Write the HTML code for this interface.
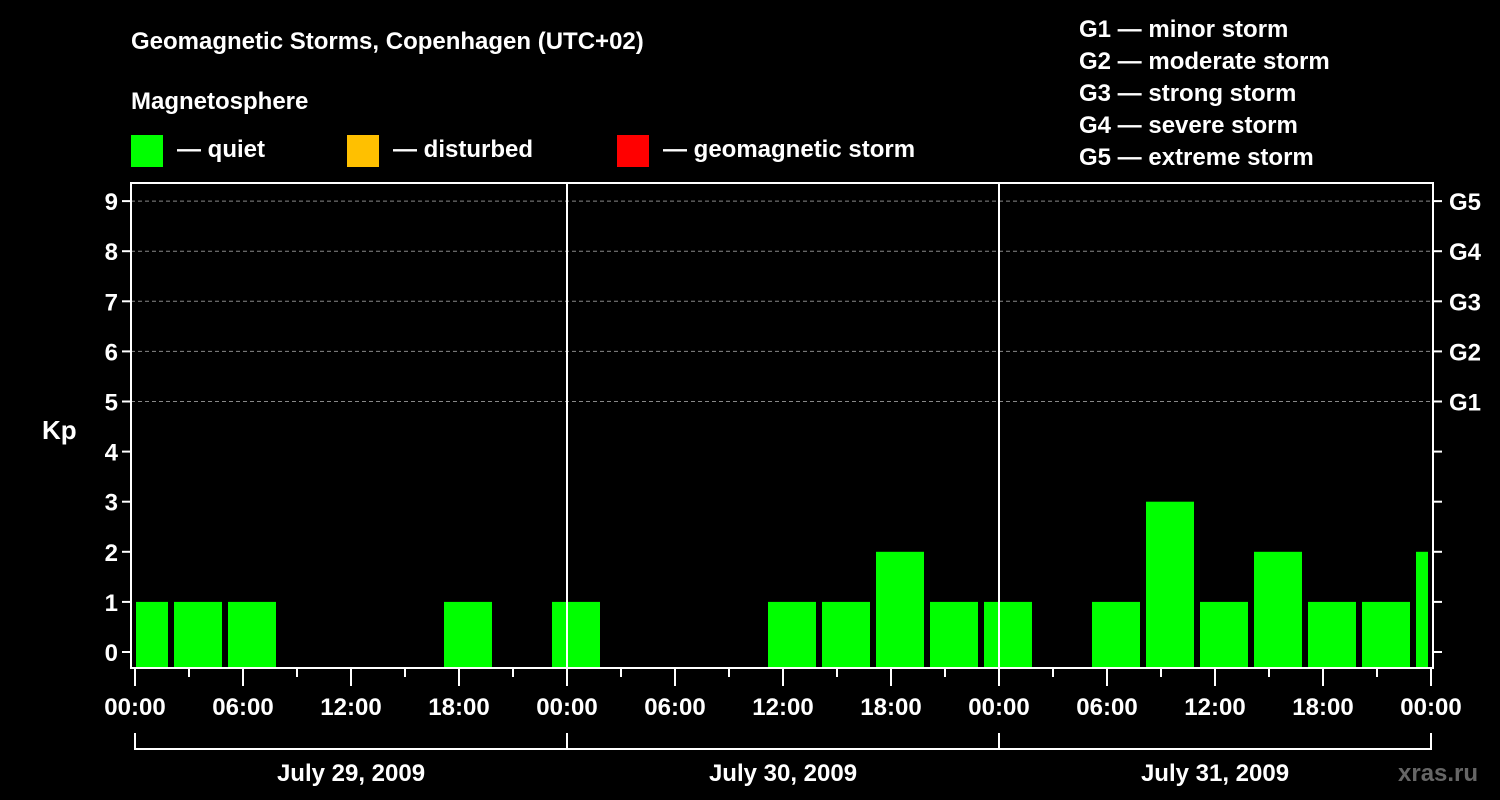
<!DOCTYPE html>
<html><head><meta charset="utf-8"><style>
html,body{margin:0;padding:0;background:#000;}
svg{display:block;font-family:"Liberation Sans",Arial,sans-serif;font-weight:bold;}
</style></head><body>
<svg id="c" width="1500" height="800" viewBox="0 0 1500 800">
<rect x="0" y="0" width="1500" height="800" fill="#000"/>
<text x="131" y="49" fill="#fff" font-size="24">Geomagnetic Storms, Copenhagen (UTC+02)</text>
<text x="131" y="109" fill="#fff" font-size="24">Magnetosphere</text>
<g><rect x="131" y="135" width="32" height="32" fill="#00ff00"/><text x="177" y="157" fill="#fff" font-size="24">— quiet</text></g>
<g><rect x="347" y="135" width="32" height="32" fill="#ffc000"/><text x="393" y="157" fill="#fff" font-size="24">— disturbed</text></g>
<g><rect x="617" y="135" width="32" height="32" fill="#ff0000"/><text x="663" y="157" fill="#fff" font-size="24">— geomagnetic storm</text></g>
<g fill="#fff" font-size="24">
<text x="1079" y="37">G1 — minor storm</text>
<text x="1079" y="69">G2 — moderate storm</text>
<text x="1079" y="101">G3 — strong storm</text>
<text x="1079" y="133">G4 — severe storm</text>
<text x="1079" y="165">G5 — extreme storm</text>
</g>
<text x="42" y="439" fill="#fff" font-size="26">Kp</text>
<text x="1398" y="781" fill="#666" font-size="24">xras.ru</text>
<g id="grid"></g><g id="bars"></g><g id="axes"></g>
</svg>
<script>
const kpValues=[1,1,1,0,0,0,1,0,1,0,0,0,1,1,2,1,1,0,1,3,1,2,1,1,2];
const yTicks=[0,1,2,3,4,5,6,7,8,9];
const gLabels=["G1","G2","G3","G4","G5"];
const hourLabels=["00:00","06:00","12:00","18:00"];
const dayLabels=["July 29, 2009","July 30, 2009","July 31, 2009"];
const NS="http://www.w3.org/2000/svg";
const X0=135,PX_H=18,L=131,R=1433,T=183,B=668;
const y=v=>652-v*50.1;
const x=h=>X0+h*PX_H; // hours since July 29 00:00 local
function mk(p,t,a){const e=document.createElementNS(NS,t);for(const k in a)e.setAttribute(k,a[k]);p.appendChild(e);return e;}
const grid=document.getElementById('grid'),bars=document.getElementById('bars'),ax=document.getElementById('axes');
for(let v=5;v<=9;v++){const l=mk(grid,'line',{x1:L,x2:R,y1:y(v),y2:y(v),stroke:'#888','stroke-dasharray':'4,3','stroke-width':1});
}
kpValues.forEach((v,i)=>{if(v<=0)return;
let x1=x(-1+3*i)+3,x2=x(-1+3*i+3)-3;x1=Math.max(x1,L+5);x2=Math.min(x2,R-5);
const c=v>=5?'#ff0000':(v>=4?'#ffc000':'#00ff00');
const r=mk(bars,'rect',{x:x1,y:y(v),width:x2-x1,height:B-y(v),fill:c});
});
for(let d=0;d<2;d++){const l=mk(ax,'line',{x1:x(24*(d+1)),x2:x(24*(d+1)),y1:T,y2:B,stroke:'#fff','stroke-width':2});
}
const fr=mk(ax,'rect',{x:L,y:T,width:R-L,height:B-T,fill:'none',stroke:'#fff','stroke-width':2});

yTicks.forEach(v=>{mk(ax,'line',{x1:L-9,x2:L,y1:y(v),y2:y(v),stroke:'#fff','stroke-width':2});
mk(ax,'line',{x1:R,x2:R+9,y1:y(v),y2:y(v),stroke:'#fff','stroke-width':2});
const t=mk(ax,'text',{x:L-13,y:y(v)+9,fill:'#fff','font-size':24,'text-anchor':'end'});t.textContent=v;
});
gLabels.forEach((g,i)=>{const t=mk(ax,'text',{x:1449,y:y(5+i)+9,fill:'#fff','font-size':24});t.textContent=g;
});
for(let h=0;h<=72;h+=3){const major=h%6===0;
mk(ax,'line',{x1:x(h),x2:x(h),y1:B,y2:major?686:677,stroke:'#fff','stroke-width':2});
if(major){const t=mk(ax,'text',{x:x(h),y:715,fill:'#fff','font-size':24,'text-anchor':'middle'});
t.textContent=hourLabels[(h/6)%4];}}
mk(ax,'line',{x1:x(0),x2:x(72),y1:749,y2:749,stroke:'#fff','stroke-width':2});
for(let d=0;d<=3;d++)mk(ax,'line',{x1:x(24*d),x2:x(24*d),y1:733,y2:750,stroke:'#fff','stroke-width':2});
dayLabels.forEach((s,d)=>{const t=mk(ax,'text',{x:x(24*d+12),y:781,fill:'#fff','font-size':24,'text-anchor':'middle'});t.textContent=s;
});
</script>
</body></html>
